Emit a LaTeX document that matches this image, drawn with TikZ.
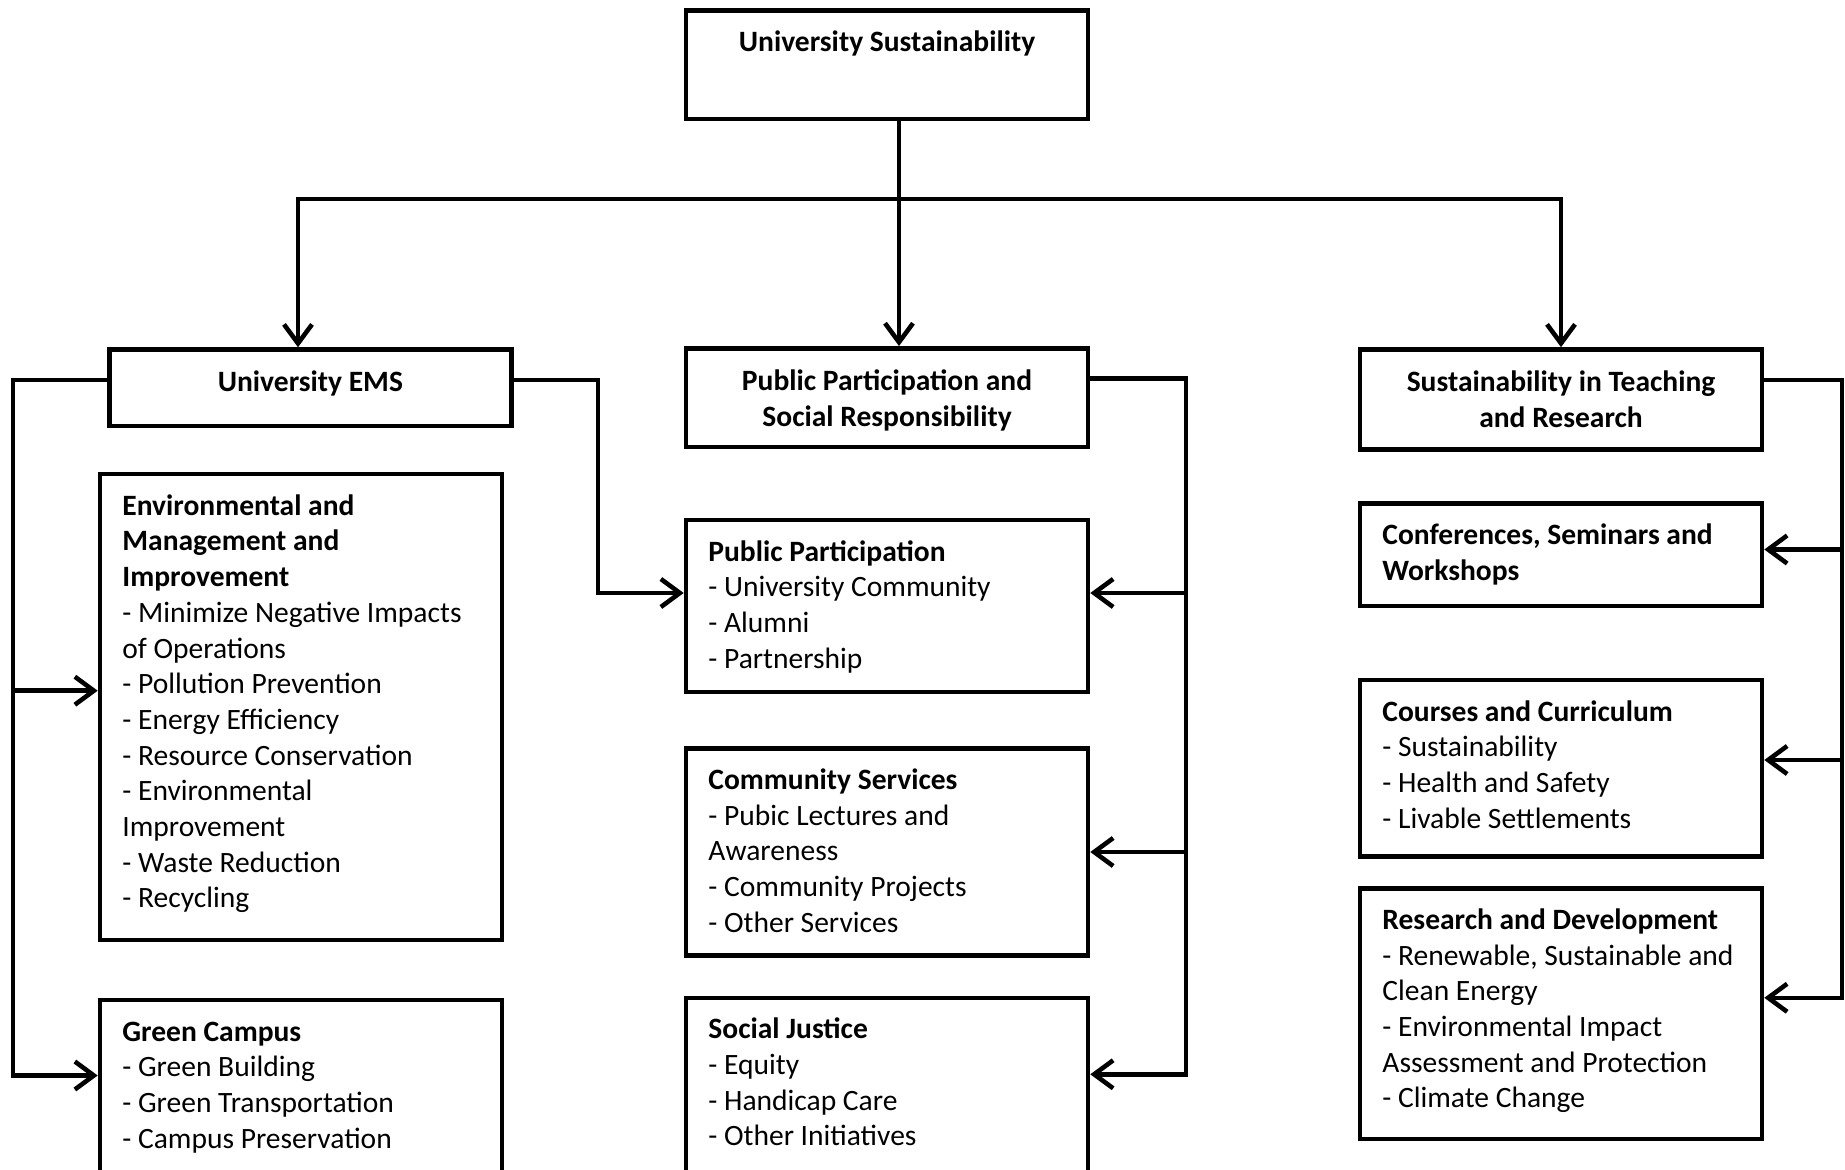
\documentclass[tikz,border=0pt]{standalone}
\usepackage{fontspec}
\setmainfont{Carlito}
\usetikzlibrary{arrows.meta,positioning}
\definecolor{ink}{HTML}{000000}
\tikzset{
  >={Straight Barb[length=1.9mm,width=2.8mm]},
  every node/.style={font=\fontsize{8.4}{10.15}\selectfont,text=ink},
  box/.style={draw=ink,line width=1.3pt,minimum width=4.02cm,inner xsep=0.224cm,inner ysep=0pt},
  headbox/.style={box,align=center,font=\fontsize{8.4}{10.15}\selectfont\bfseries},
  arrow/.style={->,line width=1.3pt,draw=ink},
  link/.style={line width=1.3pt,draw=ink},
}
\newcommand{\itemlist}[2]{\parbox[c][#1][t]{3.572cm}{\raggedright\rule{0pt}{11.7pt}#2}}

\begin{document}
\begin{tikzpicture}[x=1cm,y=1cm]
  \useasboundingbox (0,0) rectangle (18.45,-11.70);
  \clip (0,0) rectangle (18.45,-11.70);

  % top level
  \node[headbox,text height=0.411cm,text depth=0.671cm] (ustop) at (8.87,-0.647) {University Sustainability};
  \node[headbox,minimum height=0.765cm,text height=0.2cm,text depth=0.13cm] (ems) at (3.104,-3.878) {University EMS};
  \node[headbox,minimum height=0.987cm] (ppsr) at (8.87,-3.977) {\rule{0pt}{0.26cm}Public Participation and\\Social Responsibility};
  \node[headbox,minimum height=1.0cm] (str) at (15.61,-3.995) {Sustainability in Teaching\\and Research};

  \coordinate (bus) at (8.99,-1.99);
  \draw[link] (ustop.south -| bus) -- (bus);
  \draw[arrow] (bus) -- (bus |- ppsr.north);
  \draw[arrow] (bus) -| ([xshift=-1.24mm]ems.north);
  \draw[arrow] (bus) -| (str.north);

  % University EMS
  \node[box] (env) at (3.01,-7.072) {\itemlist{4.66cm}{\textbf{Environmental and}\\\textbf{Management and}\\\textbf{Improvement}\\- Minimize Negative Impacts\\of Operations\\- Pollution Prevention\\- Energy Efficiency\\- Resource Conservation\\- Environmental\\Improvement\\- Waste Reduction\\- Recycling}};
  \node[box] (green) at (3.01,-11.0) {\itemlist{2.0cm}{\textbf{Green Campus}\\- Green Building\\- Green Transportation\\- Campus Preservation}};

  \coordinate (railL) at (0.13,-10.755);
  \draw[arrow] ([yshift=0.78mm]ems.west) -| (railL) -- (green.west |- railL);
  \draw[arrow] (railL |- 0,-6.907) -- (env.west |- 0,-6.907);

  % Public participation and social responsibility
  \node[box] (pp) at (8.87,-6.059) {\itemlist{1.718cm}{\textbf{Public Participation}\\- University Community\\- Alumni\\- Partnership}};
  \node[box] (cs) at (8.87,-8.52) {\itemlist{2.071cm}{\textbf{Community Services}\\- Pubic Lectures and\\Awareness\\- Community Projects\\- Other Services}};
  \node[box] (sj) at (8.87,-10.978) {\itemlist{2.0cm}{\textbf{Social Justice}\\- Equity\\- Handicap Care\\- Other Initiatives}};

  \draw[arrow] ([yshift=0.78mm]ems.east) -| (5.98,-5.93) -- (pp.west |- 0,-5.93);

  \coordinate (railM) at (11.86,-10.743);
  \draw[arrow] ([yshift=1.9mm]ppsr.east) -| (railM) -- (sj.east |- railM);
  \draw[arrow] (railM |- 0,-5.93) -- (pp.east |- 0,-5.93);
  \draw[arrow] (railM |- cs.east) -- (cs.east);

  % Sustainability in teaching and research
  \node[box] (csw) at (15.61,-5.548) {\itemlist{1.024cm}{\textbf{Conferences, Seminars and}\\\textbf{Workshops}}};
  \node[box] (cc) at (15.61,-7.684) {\itemlist{1.765cm}{\textbf{Courses and Curriculum}\\- Sustainability\\- Health and Safety\\- Livable Settlements}};
  \node[box] (rd) at (15.61,-10.137) {\itemlist{2.506cm}{\textbf{Research and Development}\\- Renewable, Sustainable and\\Clean Energy\\- Environmental Impact\\Assessment and Protection\\- Climate Change}};

  \coordinate (railR) at (18.42,-9.978);
  \draw[arrow] ([yshift=1.95mm]str.east) -| (railR) -- (rd.east |- railR);
  \draw[arrow] (railR |- 0,-5.495) -- (csw.east |- 0,-5.495);
  \draw[arrow] (railR |- 0,-7.60) -- (cc.east |- 0,-7.60);
\end{tikzpicture}
\end{document}
